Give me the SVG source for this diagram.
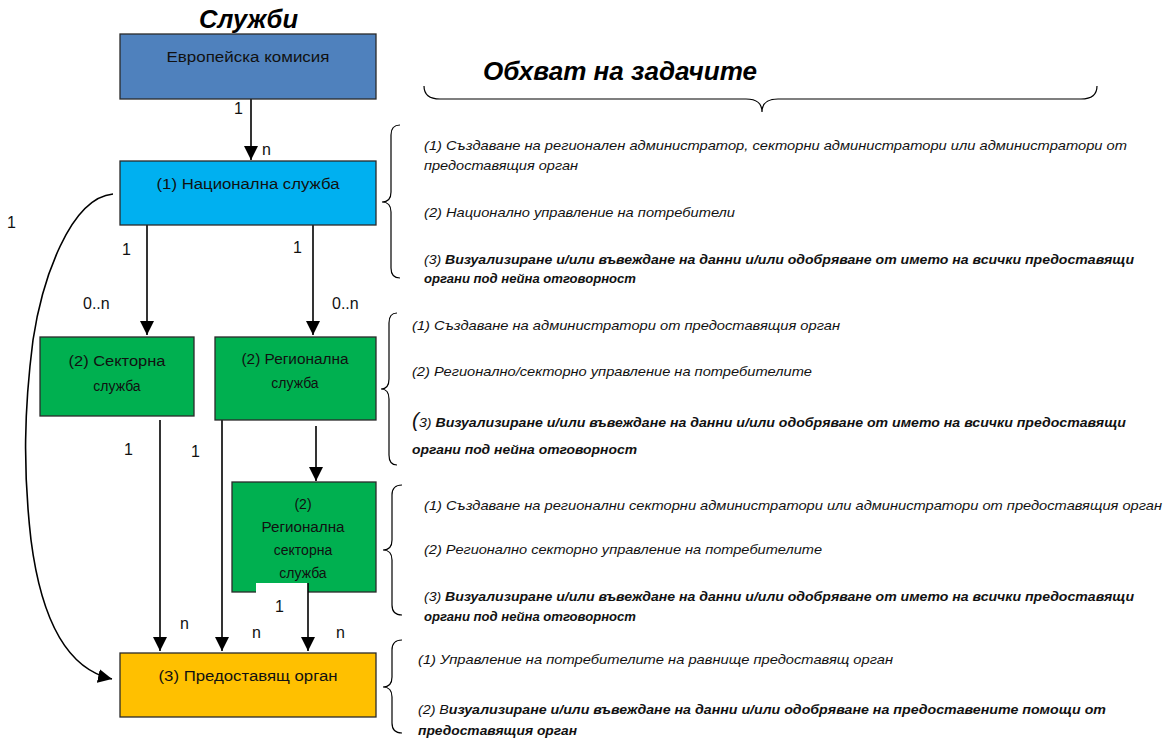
<svg xmlns="http://www.w3.org/2000/svg" width="1168" height="740" viewBox="0 0 1168 740">
<style>
.box{stroke:#2a2a2a;stroke-width:1.3}
.lbl{font-family:"Liberation Sans",Arial,sans-serif;font-size:14px;fill:#111;text-anchor:middle}
.num{font-family:"Liberation Sans",Arial,sans-serif;font-size:16px;fill:#111}
.ttl{font-family:"Liberation Sans",Arial,sans-serif;font-size:26px;font-weight:bold;font-style:italic;fill:#000}
.tx{font-family:"Liberation Sans Narrow","Liberation Sans",Arial,sans-serif;font-size:13.5px;font-style:italic;fill:#111}
.b{font-weight:bold}
.ln{stroke:#000;stroke-width:1.6;fill:none}
.br{stroke:#000;stroke-width:1.2;fill:none}
</style>
<defs>
<marker id="ah" markerWidth="16" markerHeight="14" refX="14" refY="7" orient="auto" markerUnits="userSpaceOnUse">
<path d="M0,0 L14,7 L0,14 Z" fill="#000"/>
</marker>
</defs>
<rect width="1168" height="740" fill="#fff"/>
<text class="ttl" x="199" y="28" textLength="99" lengthAdjust="spacingAndGlyphs">Служби</text>
<text class="ttl" x="483" y="80" textLength="274" lengthAdjust="spacingAndGlyphs">Обхват на задачите</text>

<g id="connectors">
<line class="ln" x1="251" y1="99" x2="251" y2="160" marker-end="url(#ah)"/>
<line class="ln" x1="147" y1="225" x2="147" y2="335" marker-end="url(#ah)"/>
<line class="ln" x1="313" y1="225" x2="313" y2="335" marker-end="url(#ah)"/>
<line class="ln" x1="316" y1="426" x2="316" y2="481" marker-end="url(#ah)"/>
<line class="ln" x1="160" y1="420" x2="160" y2="651" marker-end="url(#ah)"/>
<line class="ln" x1="222" y1="415" x2="222" y2="651" marker-end="url(#ah)"/>
<path class="ln" d="M113,194 C70,198 42,280 33,340 C24,410 23,470 31,540 C40,610 62,668 112,679" marker-end="url(#ah)"/>
<text class="num" x="234" y="114">1</text>
<text class="num" x="262" y="155">n</text>
<text class="num" x="7" y="228">1</text>
<text class="num" x="122" y="255">1</text>
<text class="num" x="293" y="253">1</text>
<text class="num" x="83" y="309">0..n</text>
<text class="num" x="332" y="309">0..n</text>
<text class="num" x="124" y="455">1</text>
<text class="num" x="191" y="457">1</text>
<text class="num" x="180" y="629">n</text>
<text class="num" x="252" y="638">n</text>
<text class="num" x="336" y="638">n</text>
</g>

<g id="ec">
<rect class="box" x="120" y="34" width="256" height="65" fill="#4F81BD"/>
<text class="lbl" x="248" y="62" textLength="163" lengthAdjust="spacingAndGlyphs">Европейска комисия</text>
</g>
<g id="national">
<rect class="box" x="120" y="161" width="256" height="64" fill="#00B0F0"/>
<text class="lbl" x="248" y="189" textLength="183" lengthAdjust="spacingAndGlyphs">(1) Национална служба</text>
</g>
<g id="sector">
<rect class="box" x="40" y="337" width="154" height="79" fill="#00B050"/>
<text class="lbl" x="117" y="366" textLength="97" lengthAdjust="spacingAndGlyphs">(2) Секторна</text>
<text class="lbl" x="117" y="391">служба</text>
</g>
<g id="regional">
<rect class="box" x="215" y="337" width="161" height="83" fill="#00B050"/>
<text class="lbl" x="295" y="364" textLength="107" lengthAdjust="spacingAndGlyphs">(2) Регионална</text>
<text class="lbl" x="295" y="388">служба</text>
</g>
<g id="regional-sector">
<rect class="box" x="232" y="482" width="144" height="110" fill="#00B050"/>
<text class="lbl" x="303" y="509">(2)</text>
<text class="lbl" x="303" y="532" textLength="83" lengthAdjust="spacingAndGlyphs">Регионална</text>
<text class="lbl" x="303" y="555">секторна</text>
<text class="lbl" x="303" y="578">служба</text>
<rect x="256" y="583" width="52" height="15" fill="#fff"/>
<line class="ln" x1="308" y1="583" x2="308" y2="651" marker-end="url(#ah)"/>
<text class="num" x="275" y="612">1</text>
</g>
<g id="provider">
<rect class="box" x="120" y="653" width="256" height="64" fill="#FFC000"/>
<text class="lbl" x="248" y="681" textLength="179" lengthAdjust="spacingAndGlyphs">(3) Предоставящ орган</text>
</g>

<g id="scope">
<path class="br" d="M424,86 Q424,99 440,99 L746,99 Q762,99 762,112 Q762,99 778,99 L1081,99 Q1097,99 1097,86"/>
<path class="br" d="M400,125 Q391,125 391,135 L391,192 Q391,202 382,202 Q391,202 391,212 L391,268 Q391,278 400,278"/>
<path class="br" d="M397,313 Q389,313 389,323 L389,379 Q389,389 381,389 Q389,389 389,399 L389,455 Q389,465 397,465"/>
<path class="br" d="M402,485 Q392,485 392,495 L392,540 Q392,550 383,550 Q392,550 392,560 L392,605 Q392,615 402,615"/>
<path class="br" d="M402,640 Q392,640 392,650 L392,677 Q392,687 383,687 Q392,687 392,697 L392,723 Q392,733 402,733"/>

<text class="tx" x="424" y="150" textLength="703" lengthAdjust="spacingAndGlyphs">(1) Създаване на регионален администратор, секторни администратори или администратори от</text>
<text class="tx" x="424" y="170" textLength="154" lengthAdjust="spacingAndGlyphs">предоставящия орган</text>
<text class="tx" x="424" y="217" textLength="311" lengthAdjust="spacingAndGlyphs">(2) Национално управление на потребители</text>
<text class="tx" x="424" y="264" textLength="710" lengthAdjust="spacingAndGlyphs">(3) <tspan class="b">Визуализиране и/или въвеждане на данни и/или одобряване от името на всички предоставящи</tspan></text>
<text class="tx b" x="424" y="283" textLength="212" lengthAdjust="spacingAndGlyphs">органи под нейна отговорност</text>

<text class="tx" x="412" y="330" textLength="428" lengthAdjust="spacingAndGlyphs">(1) Създаване на администратори от предоставящия орган</text>
<text class="tx" x="412" y="376" textLength="400" lengthAdjust="spacingAndGlyphs">(2) Регионално/секторно управление на потребителите</text>
<text class="tx" x="412" y="427" textLength="714" lengthAdjust="spacingAndGlyphs"><tspan style="font-size:20px">(</tspan>3) <tspan class="b">Визуализиране и/или въвеждане на данни и/или одобряване от името на всички предоставящи</tspan></text>
<text class="tx b" x="412" y="454" textLength="225" lengthAdjust="spacingAndGlyphs">органи под нейна отговорност</text>

<text class="tx" x="424" y="510" textLength="738" lengthAdjust="spacingAndGlyphs">(1) Създаване на регионални секторни администратори или администратори от предоставящия орган</text>
<text class="tx" x="424" y="554" textLength="398" lengthAdjust="spacingAndGlyphs">(2) Регионално секторно управление на потребителите</text>
<text class="tx" x="424" y="601" textLength="710" lengthAdjust="spacingAndGlyphs">(3) <tspan class="b">Визуализиране и/или въвеждане на данни и/или одобряване от името на всички предоставящи</tspan></text>
<text class="tx b" x="424" y="621" textLength="212" lengthAdjust="spacingAndGlyphs">органи под нейна отговорност</text>

<text class="tx" x="418" y="664" textLength="475" lengthAdjust="spacingAndGlyphs">(1) Управление на потребителите на равнище предоставящ орган</text>
<text class="tx" x="418" y="714" textLength="688" lengthAdjust="spacingAndGlyphs">(2) В<tspan class="b">изуализиране и/или въвеждане на данни и/или одобряване на предоставените помощи от</tspan></text>
<text class="tx b" x="418" y="735" textLength="159" lengthAdjust="spacingAndGlyphs">предоставящия орган</text>
</g>
</svg>
